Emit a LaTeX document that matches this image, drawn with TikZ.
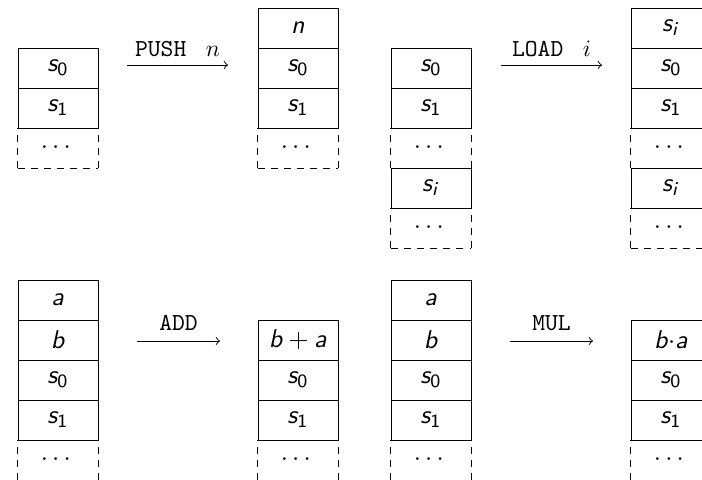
\documentclass[tikz,border=0pt]{standalone}
\usepackage{amsmath}
\DeclareMathAlphabet{\mathsfit}{OT1}{cmss}{m}{sl}
% stack entries in sans-serif italic with upright sans subscripts
\newcommand{\sent}[2]{$\mathsfit{#1}_{\mathsf{#2}}$}
\newcommand{\sentv}[1]{$\mathsfit{#1}$}
\newcommand{\sidx}{$\mathsfit{s}_{\mathsfit{i}}$}

\tikzset{
  cellbase/.style={rectangle, inner sep=0pt, minimum width=34.04pt, minimum height=17.02pt,
    font=\fontsize{11}{13}\selectfont},
  cell/.style={cellbase, draw},
  gapcell/.style={cellbase},
  gapline/.style={dash pattern=on 3pt off 2.6pt},
  oplabel/.style={anchor=base, inner sep=0pt, font=\fontsize{10.4}{12}\selectfont},
  oparrow/.style={-to},
}
% dashed sides and bottom of an open-ended stack segment
\newcommand{\gapframe}[1]{%
  \draw[gapline] (#1.south west) -- (#1.north west)
                 (#1.south west) -- (#1.south east)
                 (#1.south east) -- (#1.north east);}

\begin{document}
\begin{tikzpicture}[x=0.4255pt, y=-0.4255pt]
\useasboundingbox (0,0) rectangle (702,479);
\clip (0,0) rectangle (702,479);

% ---------- PUSH n ----------
\node[cell] (a1) at (58,68) {\sent{s}{0}};
\node[cell] (a2) at (58,108) {\sent{s}{1}};
\node[gapcell] (a3) at (58,148) {$\cdots$};
\gapframe{a3}

\coordinate (pushL) at (127,65);
\coordinate (pushR) at (228,65);
\draw[oparrow] (pushL) -- (pushR);
\node[oplabel] (pushlab) at (177.5,56) {\texttt{PUSH}\hspace{0.8em}$n$};

\node[cell] (b0) at (298,28) {\sentv{n}};
\node[cell] (b1) at (298,68) {\sent{s}{0}};
\node[cell] (b2) at (298,108) {\sent{s}{1}};
\node[gapcell] (b3) at (298,148) {$\cdots$};
\gapframe{b3}

% ---------- LOAD i ----------
\node[cell] (c1) at (431,68) {\sent{s}{0}};
\node[cell] (c2) at (431,108) {\sent{s}{1}};
\node[gapcell] (c3) at (431,148) {$\cdots$};
\gapframe{c3}
\node[cell] (c4) at (431,188) {\sidx};
\node[gapcell] (c5) at (431,228) {$\cdots$};
\gapframe{c5}

\coordinate (loadL) at (501,65);
\coordinate (loadR) at (602,65);
\draw[oparrow] (loadL) -- (loadR);
\node[oplabel] (loadlab) at (551.5,56) {\texttt{LOAD}\hspace{0.8em}$i$};

\node[cell] (d0) at (671,28) {\sidx};
\node[cell] (d1) at (671,68) {\sent{s}{0}};
\node[cell] (d2) at (671,108) {\sent{s}{1}};
\node[gapcell] (d3) at (671,148) {$\cdots$};
\gapframe{d3}
\node[cell] (d4) at (671,188) {\sidx};
\node[gapcell] (d5) at (671,228) {$\cdots$};
\gapframe{d5}

% ---------- ADD ----------
\node[cell] (e1) at (58,300) {\sentv{a}};
\node[cell] (e2) at (58,340) {\sentv{b}};
\node[cell] (e3) at (58,380) {\sent{s}{0}};
\node[cell] (e4) at (58,420) {\sent{s}{1}};
\node[gapcell] (e5) at (58,460) {$\cdots$};
\gapframe{e5}

\coordinate (addL) at (137,341);
\coordinate (addR) at (220,341);
\draw[oparrow] (addL) -- (addR);
\node[oplabel] (addlab) at (178.5,330) {\texttt{ADD}};

\node[cell] (f1) at (298,340) {$\mathsfit{b}+\mathsfit{a}$};
\node[cell] (f2) at (298,380) {\sent{s}{0}};
\node[cell] (f3) at (298,420) {\sent{s}{1}};
\node[gapcell] (f4) at (298,460) {$\cdots$};
\gapframe{f4}

% ---------- MUL ----------
\node[cell] (g1) at (431,300) {\sentv{a}};
\node[cell] (g2) at (431,340) {\sentv{b}};
\node[cell] (g3) at (431,380) {\sent{s}{0}};
\node[cell] (g4) at (431,420) {\sent{s}{1}};
\node[gapcell] (g5) at (431,460) {$\cdots$};
\gapframe{g5}

\coordinate (mulL) at (510,341);
\coordinate (mulR) at (593,341);
\draw[oparrow] (mulL) -- (mulR);
\node[oplabel] (mullab) at (551.5,330) {\texttt{MUL}};

\node[cell] (h1) at (671,340) {$\mathsfit{b}{\cdot}\mathsfit{a}$};
\node[cell] (h2) at (671,380) {\sent{s}{0}};
\node[cell] (h3) at (671,420) {\sent{s}{1}};
\node[gapcell] (h4) at (671,460) {$\cdots$};
\gapframe{h4}
\end{tikzpicture}
\end{document}
